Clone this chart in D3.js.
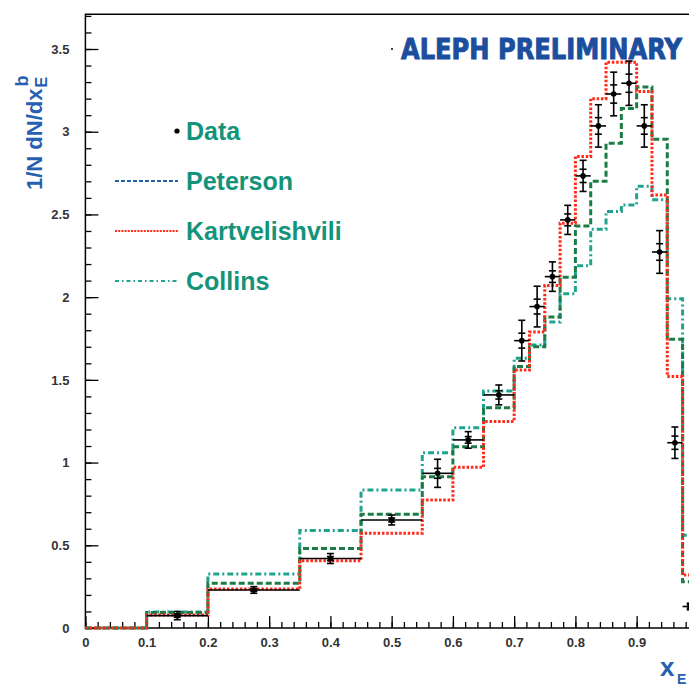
<!DOCTYPE html>
<html>

<head>
    <meta charset="utf-8">
    <script src="https://d3js.org/d3.v7.min.js"></script>
    <title>b fragmentation function</title>
    <style>
        body {
            margin: 0px;
            background: #fff;
        }

        .domain {
            display: none;
        }

        .tick line {
            stroke: #000;
            stroke-width: 1.3;
        }

        .tick text {
            fill: #333;
            font-size: 13px;
            font-weight: bold;
            font-family: "Liberation Sans", Arial, sans-serif;
        }

        .legend-text {
            fill: #12937a;
            font-size: 25px;
            font-weight: bold;
            font-family: "Liberation Sans", Arial, sans-serif;
        }
    </style>
</head>

<body>
    <svg width="689" height="685"></svg>
    <script>
        //  Bin edges in x_E (same binning for data and the three models).
        const binEdges = [0, 0.1, 0.2, 0.35, 0.45, 0.55, 0.6, 0.65, 0.7, 0.725, 0.75,
            0.775, 0.8, 0.825, 0.85, 0.875, 0.9, 0.925, 0.95, 0.975, 1.0];

        //  Model histograms, one value per bin.
        const peterson = [0, 0.093, 0.27, 0.48, 0.687, 0.915, 1.096, 1.332, 1.58, 1.70,
            1.88, 2.12, 2.43, 2.70, 2.93, 3.14, 3.27, 2.955, 1.745, 0.28];
        const kartvelishvili = [0, 0.079, 0.236, 0.407, 0.573, 0.774, 0.971, 1.248, 1.56, 1.79,
            2.07, 2.447, 2.85, 3.20, 3.42, 3.42, 3.243, 2.618, 1.52, 0.32];
        const collins = [0, 0.097, 0.327, 0.59, 0.834, 1.06, 1.21, 1.433, 1.63, 1.71,
            1.85, 2.02, 2.19, 2.41, 2.517, 2.557, 2.67, 2.588, 1.99, 0.56];

        //  Data, one point for each bin from 0.1 upwards.
        const dataY = [0.075, 0.23, 0.42, 0.653, 0.935, 1.137, 1.409, 1.737, 1.943, 2.124,
            2.467, 2.733, 3.035, 3.228, 3.293, 3.035, 2.273, 1.12, 0.13];
        const dataErr = [0.025, 0.02, 0.03, 0.03, 0.085, 0.05, 0.06, 0.123, 0.123, 0.089,
            0.088, 0.094, 0.128, 0.132, 0.134, 0.128, 0.129, 0.095, 0.02];
        const dataStat = [0.01, 0.008, 0.012, 0.012, 0.03, 0.02, 0.025, 0.045, 0.045, 0.035,
            0.036, 0.04, 0.05, 0.055, 0.055, 0.05, 0.05, 0.04, 0.01];

        const xTickLabels = [0, 0.1, 0.2, 0.3, 0.4, 0.5, 0.6, 0.7, 0.8, 0.9];
        const yTickLabels = [0, 0.5, 1, 1.5, 2, 2.5, 3, 3.5];
        const legendNames = ['Data', 'Peterson', 'Kartvelishvili', 'Collins'];

        const blue = '#2760b0';

        const svg = d3.select('svg');

        const xScale = d3.scaleLinear()
            .domain([0, 1])
            .range([85.4, 697.9]);
        const yScale = d3.scaleLinear()
            .domain([0, 3.5])
            .range([628, 49]);  //  y flipped here
        const yTop = 3.71;

        //  Ticks point into the frame, like ROOT.
        const xMinor = d3.axisBottom(xScale)
            .tickValues(d3.range(0, 1.001, 0.02))
            .tickSize(-6)
            .tickFormat('');
        const xMajor = d3.axisBottom(xScale)
            .tickValues(xTickLabels)
            .tickSize(-12)
            .tickPadding(10)
            .tickFormat(d3.format('~g'));
        const yMinor = d3.axisLeft(yScale)
            .tickValues(d3.range(0, 3.71, 0.1))
            .tickSize(-6)
            .tickFormat('');
        const yMajor = d3.axisLeft(yScale)
            .tickValues(yTickLabels)
            .tickSize(-13)
            .tickPadding(16)
            .tickFormat(d3.format('~g'));

        const xAxisG = svg.append('g').attr('transform', `translate(0,${yScale(0)})`);
        xAxisG.append('g').call(xMinor);
        xAxisG.append('g').call(xMajor);
        const yAxisG = svg.append('g').attr('transform', `translate(${xScale(0)},0)`);
        yAxisG.append('g').call(yMinor);
        yAxisG.append('g').call(yMajor);

        //  Frame
        svg.append('rect')
            .attr('x', xScale(0))
            .attr('y', yScale(yTop))
            .attr('width', xScale(1) - xScale(0))
            .attr('height', yScale(0) - yScale(yTop))
            .attr('fill', 'none')
            .attr('stroke', '#000')
            .attr('stroke-width', 1.5);

        //  Step histogram path for a model.
        const stepLine = d3.line()
            .x(d => xScale(d[0]))
            .y(d => yScale(d[1]))
            .curve(d3.curveStepAfter);

        function steps(vals) {
            const pts = vals.map((v, i) => [binEdges[i], v]);
            pts.push([binEdges[vals.length], vals[vals.length - 1]]);
            pts.push([binEdges[vals.length], 0]);
            return pts;
        }

        const models = [
            { vals: collins, color: '#1fa38f', dash: '6,3,2,3' },
            { vals: peterson, color: '#1b7d45', dash: '6,3' },
            { vals: kartvelishvili, color: '#ff2a1a', dash: '2.5,1.8' }
        ];

        models.forEach(m => {
            svg.append('path')
                .datum(steps(m.vals))
                .attr('fill', 'none')
                .attr('stroke', m.color)
                .attr('stroke-width', 3)
                .attr('stroke-dasharray', m.dash)
                .attr('d', stepLine);
        });

        //  Data points with error bars (total and stat ticks).
        const points = dataY.map((y, i) => ({
            lo: binEdges[i + 1],
            hi: binEdges[i + 2],
            x: (binEdges[i + 1] + binEdges[i + 2]) / 2,
            y: y,
            err: dataErr[i],
            stat: dataStat[i]
        }));

        const pg = svg.append('g')
            .attr('stroke', '#000')
            .attr('stroke-width', 1.6);

        points.forEach(p => {
            const cx = xScale(p.x);
            pg.append('line')
                .attr('x1', xScale(p.lo)).attr('x2', xScale(p.hi))
                .attr('y1', yScale(p.y)).attr('y2', yScale(p.y));
            pg.append('line')
                .attr('x1', cx).attr('x2', cx)
                .attr('y1', yScale(p.y - p.err)).attr('y2', yScale(p.y + p.err));
            [p.y - p.err, p.y + p.err, p.y - p.stat, p.y + p.stat].forEach(v => {
                pg.append('line')
                    .attr('x1', cx - 3.5).attr('x2', cx + 3.5)
                    .attr('y1', yScale(v)).attr('y2', yScale(v));
            });
            pg.append('circle')
                .attr('cx', cx)
                .attr('cy', yScale(p.y))
                .attr('r', 2.8)
                .attr('fill', '#000')
                .attr('stroke', 'none');
        });

        //  Legend
        const legend = svg.append('g');
        legendNames.forEach((name, i) => {
            const ly = 131 + i * 50;
            if (i === 0) {
                legend.append('circle')
                    .attr('cx', 177).attr('cy', ly).attr('r', 2.6).attr('fill', '#000');
            } else {
                const style = [null,
                    { color: '#2462a8', dash: '4,2' },
                    { color: '#ff2a1a', dash: '2,1.2' },
                    { color: '#1fa38f', dash: '4,3,1.5,3' }][i];
                legend.append('line')
                    .attr('x1', 115).attr('x2', 178)
                    .attr('y1', ly).attr('y2', ly)
                    .attr('stroke', style.color)
                    .attr('stroke-width', 2)
                    .attr('stroke-dasharray', style.dash);
            }
            legend.append('text')
                .attr('class', 'legend-text')
                .attr('x', 186)
                .attr('y', ly + 9)
                .text(name);
        });

        //  ALEPH PRELIMINARY stamp (tall heavy lettering)
        svg.append('circle')
            .attr('cx', 392).attr('cy', 49).attr('r', 1).attr('fill', '#000');
        svg.append('text')
            .attr('transform', 'translate(401,58.5) scale(1,1.17)')
            .attr('textLength', 281)
            .attr('lengthAdjust', 'spacingAndGlyphs')
            .style('font-family', '"DejaVu Sans", sans-serif')
            .style('font-weight', 'bold')
            .style('font-size', '23.5px')
            .style('fill', '#1c4e9e')
            .style('stroke', '#1c4e9e')
            .style('stroke-width', 0.8)
            .text('ALEPH PRELIMINARY');

        //  y axis title: 1/N dN/dx_E^b
        const yLab = svg.append('g')
            .attr('transform', 'translate(41.7,190) rotate(-90)')
            .style('font-family', '"Liberation Sans", Arial, sans-serif')
            .style('font-weight', 'bold')
            .style('fill', blue);
        const yMain = yLab.append('text')
            .attr('x', 0).attr('y', 0)
            .style('font-size', '22px')
            .text('1/N dN/dx');
        const mainLen = yMain.node().getComputedTextLength();
        yLab.append('text')
            .attr('x', mainLen + 1).attr('y', 5)
            .style('font-size', '16px')
            .text('E');
        yLab.append('text')
            .attr('x', mainLen + 2).attr('y', -13.5)
            .style('font-size', '18px')
            .text('b');

        //  x axis title: x_E
        const xLab = svg.append('g')
            .style('font-family', '"Liberation Sans", Arial, sans-serif')
            .style('font-weight', 'bold')
            .style('fill', blue);
        xLab.append('text')
            .attr('x', 660).attr('y', 676)
            .style('font-size', '26px')
            .text('x');
        xLab.append('text')
            .attr('x', 677).attr('y', 683.5)
            .style('font-size', '14px')
            .text('E');
    </script>
</body>

</html>
